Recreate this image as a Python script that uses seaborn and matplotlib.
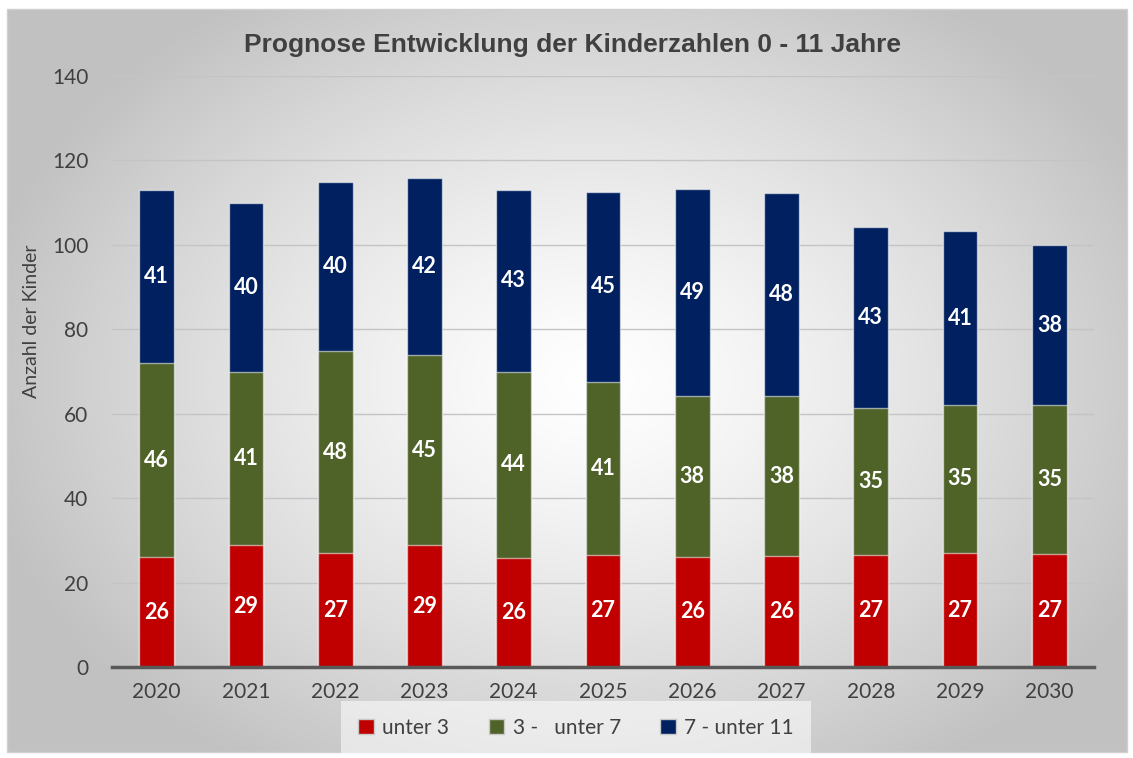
import numpy as np
import pandas as pd
import matplotlib
matplotlib.use("Agg")
import matplotlib.pyplot as plt
from matplotlib.patches import Patch, Rectangle
import seaborn as sns

# Kinderzahlen je Altersgruppe (Prognose)
jahre = ["2020", "2021", "2022", "2023", "2024", "2025", "2026", "2027", "2028", "2029", "2030"]
unter_3 = [26.0, 28.9, 26.9, 28.9, 25.9, 26.6, 26.1, 26.2, 26.6, 27.0, 26.7]
von_3_bis_7 = [46.0, 41.1, 48.0, 45.0, 44.1, 41.0, 38.0, 37.9, 34.7, 35.1, 35.3]
von_7_bis_11 = [41.0, 40.0, 40.0, 42.0, 43.0, 45.0, 49.1, 48.1, 42.9, 41.1, 38.0]
gruppen = ["unter 3", "3 -   unter 7", "7 - unter 11"]
farben = ["#C00000", "#4F6228", "#002060"]
titel = "Prognose Entwicklung der Kinderzahlen 0 - 11 Jahre"
y_titel = "Anzahl der Kinder"

df = pd.DataFrame({
    "Jahr": jahre,
    gruppen[0]: unter_3,
    gruppen[1]: von_3_bis_7,
    gruppen[2]: von_7_bis_11,
})
stufen = df[gruppen].cumsum(axis=1)

sns.set_theme(style="white")
plt.rcParams["font.family"] = ["Lato", "DejaVu Sans"]
text_farbe = "#404040"

W, H = 1133, 758
fig = plt.figure(figsize=(W / 100, H / 100), dpi=100)
fig.patch.set_facecolor("white")

# radial gradient background of the chart area
bg = fig.add_axes([0, 0, 1, 1], zorder=-10)
bg.set_xlim(0, W)
bg.set_ylim(H, 0)
bg.axis("off")
x0, x1, y0, y1 = 7, 1127, 9, 752
gx, gy = np.meshgrid(np.linspace(x0, x1, 400), np.linspace(y0, y1, 300))
cx, cy = 590, 380
d = np.sqrt(((gx - cx) / 620) ** 2 + ((gy - cy) / 460) ** 2)
d = np.clip(d, 0, 1)
shade = 1.0 - 0.24 * d ** 1.3
img = np.dstack([shade, shade, shade])
bg.imshow(img, extent=(x0, x1, y1, y0), aspect="auto", interpolation="bilinear")
bg.add_patch(Rectangle((x0, y0), x1 - x0, y1 - y0, fill=False, edgecolor="#d0d0d0", lw=1))

ax = fig.add_axes([112 / W, (H - 667) / H, (1094 - 112) / W, (667 - 76) / H])
ax.set_facecolor("none")

# stacked bars: draw cumulative totals from the top layer down
for i in reversed(range(len(gruppen))):
    sns.barplot(x=df["Jahr"], y=stufen[gruppen[i]], color=farben[i], saturation=1,
                width=0.39, errorbar=None, ax=ax, zorder=3 + (len(gruppen) - i),
                edgecolor=(1, 1, 1, 0.55), linewidth=1)

# value labels centred in each segment
for i, g in enumerate(gruppen):
    unten = stufen[g] - df[g]
    for k, (u, v) in enumerate(zip(unten, df[g])):
        ax.text(k, u + v / 2, f"{v:.0f}", ha="center", va="center", color="white",
                fontsize=15.5, fontweight="bold", zorder=10)

ax.set_xlim(-0.5, len(jahre) - 0.5)
ax.set_ylim(0, 140)
ax.set_yticks(np.arange(0, 141, 20))
ax.yaxis.grid(True, color="#c4c4c4", lw=1)
ax.set_axisbelow(True)
for s in ["top", "right", "left"]:
    ax.spines[s].set_visible(False)
ax.spines["bottom"].set_color("#595959")
ax.spines["bottom"].set_linewidth(2.5)
ax.spines["bottom"].set_zorder(20)
ax.tick_params(axis="x", length=0, pad=11, labelsize=15, labelcolor=text_farbe)
ax.tick_params(axis="y", length=0, pad=17, labelsize=15, labelcolor=text_farbe)
ax.set_xlabel("")
ax.set_ylabel(y_titel, fontsize=14, color=text_farbe)
ax.yaxis.set_label_coords(-0.073, 0.585)

fig.text(573 / W, 1 - 45 / H, titel, ha="center", va="center", fontsize=19,
         fontweight="bold", color=text_farbe, family=["Liberation Sans", "DejaVu Sans"])

handles = [Patch(facecolor=c, edgecolor="#c8c8c8", lw=1) for c in farben]
leg = fig.legend(handles, gruppen, loc="center", bbox_to_anchor=(576 / W, 1 - 728 / H),
                 ncol=3, frameon=True, fontsize=15, handlelength=0.75, handleheight=0.75,
                 handletextpad=0.4, columnspacing=1.9, borderpad=0.5, labelcolor=text_farbe)
leg.get_frame().set_facecolor("white")
leg.get_frame().set_alpha(0.55)
leg.get_frame().set_edgecolor("none")
leg.get_frame().set_boxstyle("square")

fig.savefig("out.png", dpi=100)
